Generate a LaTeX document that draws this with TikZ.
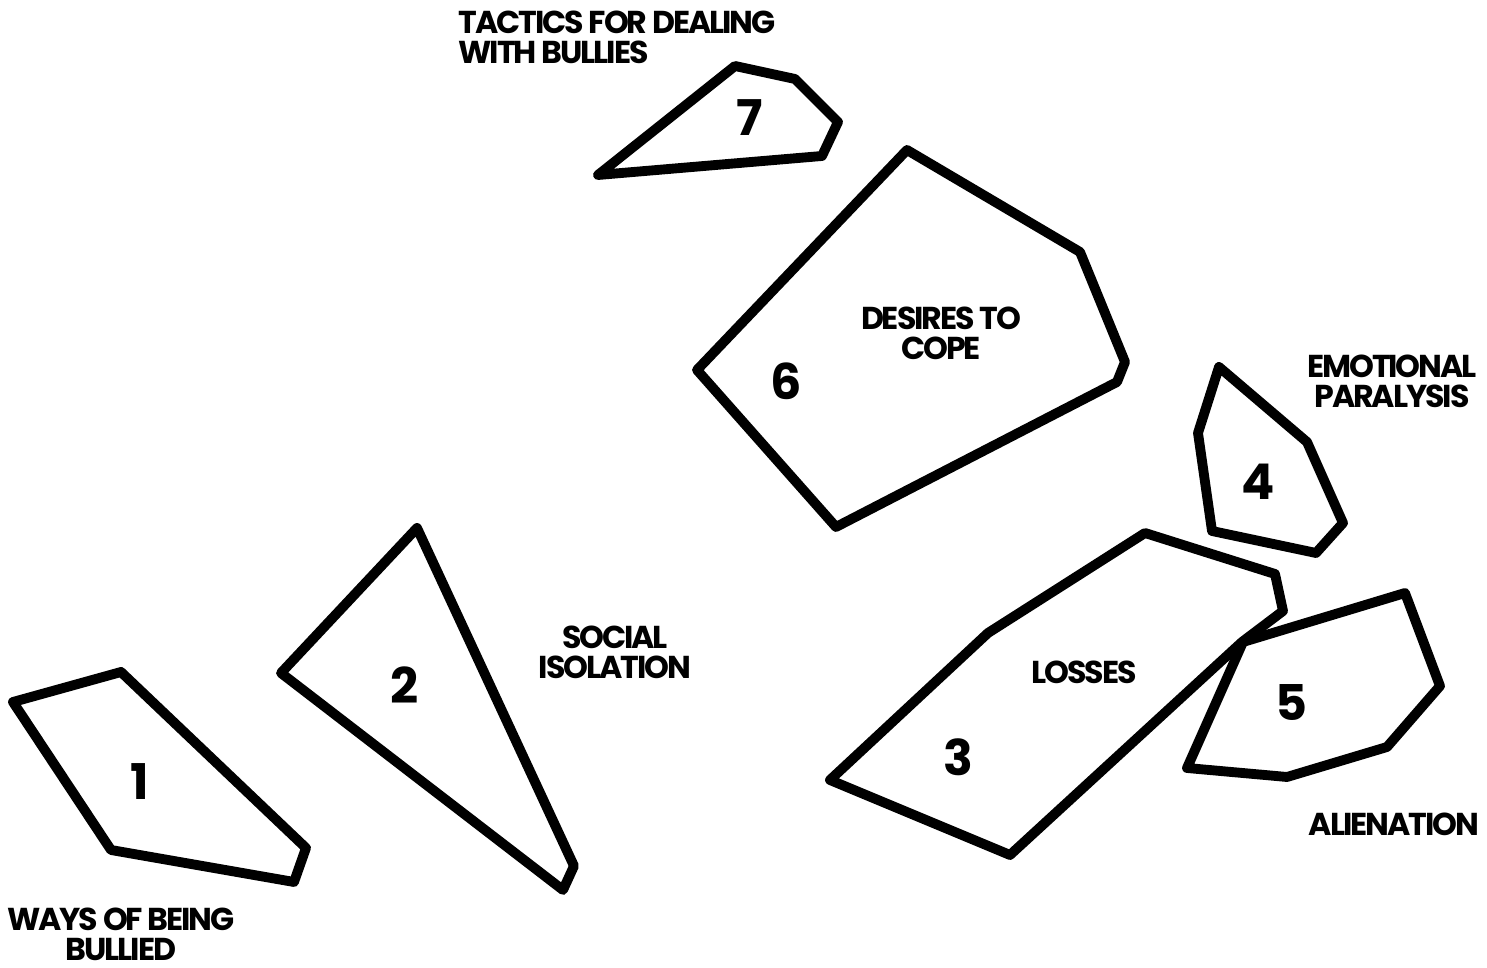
\documentclass[tikz,border=0pt]{standalone}
\usepackage{fontspec}
\setmainfont{Poppins}[LetterSpace=-6.5]
\usetikzlibrary{positioning}

\begin{document}
\begin{tikzpicture}[
  x=0.01cm, y=-0.01cm,
  cluster/.style={draw, line width=2.8pt, line join=round},
  num/.style={font=\fontsize{14}{14}\selectfont\bfseries, inner sep=0pt},
  lbl/.style={font=\fontsize{9}{8.6}\selectfont\bfseries, align=center, inner sep=0pt}
]
  \useasboundingbox (0,0) rectangle (1487,968);

  % clusters
  \draw[cluster] (598,175) -- (735,66) -- (795,79) -- (838,122) -- (822,156) -- cycle;
  \draw[cluster] (907,150) -- (1080,252) -- (1125,362) -- (1117,382) -- (836,527) -- (697,370) -- cycle;
  \draw[cluster] (1219,367) -- (1307,442) -- (1343,523) -- (1316,553) -- (1212,531) -- (1198,433) -- cycle;
  \draw[cluster] (1145,533) -- (1275,574) -- (1283,611) -- (1242,642) -- (1010,855) -- (830,780) -- (988,633) -- cycle;
  \draw[cluster] (1243,642) -- (1405,593) -- (1440,686) -- (1387,747) -- (1287,777) -- (1187,768) -- cycle;
  \draw[cluster] (417,528) -- (574,866) -- (563,890) -- (281,673) -- cycle;
  \draw[cluster] (13,702) -- (121,672) -- (306,848) -- (294,882) -- (111,850) -- cycle;

  % cluster numbers
  \node[num] (n7) at (750,118) {7};
  \node[num] (n6) at (786,381) {6};
  \node[num] (n4) at (1258,482) {4};
  \node[num] (n3) at (958,757) {3};
  \node[num] (n5) at (1291,703) {5};
  \node[num] (n2) at (405,685) {2};
  \node[num] (n1) at (140,782) {1};

  % cluster names
  \node[lbl, align=left, anchor=west] (tactics) at (458,37) {TACTICS FOR DEALING\\WITH BULLIES};
  \node[lbl] (desires) at (941,333) {DESIRES TO\\COPE};
  \node[lbl] (paralysis) at (1392,381) {EMOTIONAL\\PARALYSIS};
  \node[lbl] (isolation) at (615,652) {SOCIAL\\ISOLATION};
  \node[lbl] (losses) at (1084,672) {LOSSES};
  \node[lbl] (alienation) at (1394,824) {ALIENATION};
  \node[lbl] (ways) at (121,934) {WAYS OF BEING\\BULLIED};
\end{tikzpicture}
\end{document}
